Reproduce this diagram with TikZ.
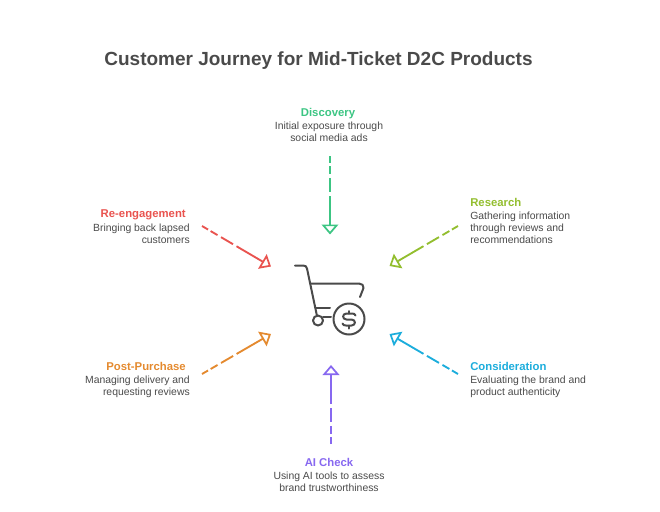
\documentclass[tikz,border=0pt]{standalone}
\usepackage{fontspec}
\setmainfont{Liberation Sans}
\usetikzlibrary{arrows.meta}
\definecolor{cgreen}{HTML}{3CC583}
\definecolor{clime}{HTML}{93BE2F}
\definecolor{cblue}{HTML}{1CADDC}
\definecolor{cviolet}{HTML}{8768F0}
\definecolor{corange}{HTML}{E48A2F}
\definecolor{cred}{HTML}{E9534F}
\definecolor{ctext}{HTML}{4A4A4A}
\tikzset{
  x=0.75pt,y=-0.75pt,
  titletext/.style={font=\fontsize{14.25}{18}\selectfont\bfseries,text=ctext,inner sep=0pt},
  head/.style={font=\fontsize{8.5}{10}\selectfont\bfseries,inner sep=0pt},
  body/.style={font=\fontsize{7.8}{9}\selectfont,text=ctext,inner sep=0pt},
  conn/.style={line width=1.4pt,-{Triangle[open,fill=white,length=7.5pt,width=12.5pt,line width=1.3pt]},
     dash pattern=on 5.25pt off 2.25pt on 6pt off 3pt on 10.5pt off 3pt on 70pt off 0pt},
  cart/.style={draw=ctext,line width=1.5pt,line cap=round,line join=round},
}
\begin{document}
\begin{tikzpicture}
\useasboundingbox (0,0) rectangle (660,511);
\node[titletext,anchor=center] (title) at (318.5,61) {Customer Journey for Mid-Ticket D2C Products};
% labels
\node[head,text=cgreen] (discH) at (328,114) {Discovery};
\node[body,align=center,anchor=north] (discB) at (329,121.5) {Initial exposure through\\social media ads};
\node[head,text=clime,anchor=west] (resH) at (470,202) {Research};
\node[body,align=left,anchor=north west] (resB) at (470,211.5) {Gathering information\\through reviews and\\recommendations};
\node[head,text=cblue,anchor=west] (conH) at (470,366) {Consideration};
\node[body,align=left,anchor=north west] (conB) at (470,375.5) {Evaluating the brand and\\product authenticity};
\node[head,text=cviolet] (aiH) at (329,462) {AI Check};
\node[body,align=center,anchor=north] (aiB) at (329,471.5) {Using AI tools to assess\\brand trustworthiness};
\node[head,text=corange,anchor=east] (postH) at (186,366) {Post-Purchase};
\node[body,align=right,anchor=north east] (postB) at (190,375.5) {Managing delivery and\\requesting reviews};
\node[head,text=cred,anchor=east] (reH) at (186,215) {Re-engagement};
\node[body,align=right,anchor=north east] (reB) at (190,223.5) {Bringing back lapsed\\customers};
% connector ends
\coordinate (hub1) at (330,234.5);
\coordinate (hub2) at (389.5,266);
\coordinate (hub3) at (389.5,334);
\coordinate (hub4) at (331,365);
\coordinate (hub5) at (271,334);
\coordinate (hub6) at (271,266.5);
\coordinate (t1) at (330,156);
\coordinate (t2) at (458,226);
\coordinate (t3) at (458,374);
\coordinate (t4) at (331,444);
\coordinate (t5) at (202,374);
\coordinate (t6) at (202,226);
\draw[conn,cgreen] (t1) -- (hub1);
\draw[conn,clime] (t2) -- (hub2);
\draw[conn,cblue] (t3) -- (hub3);
\draw[conn,cviolet] (t4) -- (hub4);
\draw[conn,corange] (t5) -- (hub5);
\draw[conn,cred] (t6) -- (hub6);
% cart icon
\draw[cart] (295,265.5) -- (303,265.5) .. controls (305.5,265.5) and (306.5,266.5) .. (307,268.5) -- (317,316);
\draw[cart] (311,283.5) -- (359,283.5) .. controls (362,283.5) and (364,285.5) .. (363.5,288) -- (360,297);
\draw[cart] (316,307.5) -- (330,307.5);
\draw[cart] (323,316.5) -- (331,316.5);
\draw[cart] (318,320.5) circle (5);
\draw[cart] (349,319) circle (15.5);
\draw[cart] (355.5,315.5) .. controls (355,314) and (354,313.5) .. (352,313.5) -- (346.5,313.5)
  .. controls (342,313.5) and (342,319.5) .. (346.5,319.5) -- (351.5,319.5)
  .. controls (356,319.5) and (356,325.5) .. (351.5,325.5) -- (346,325.5)
  .. controls (344,325.5) and (343,325) .. (342.5,323.5);
\draw[cart] (349,311) -- (349,313.5);
\draw[cart] (349,325.5) -- (349,328.5);
\end{tikzpicture}
\end{document}
